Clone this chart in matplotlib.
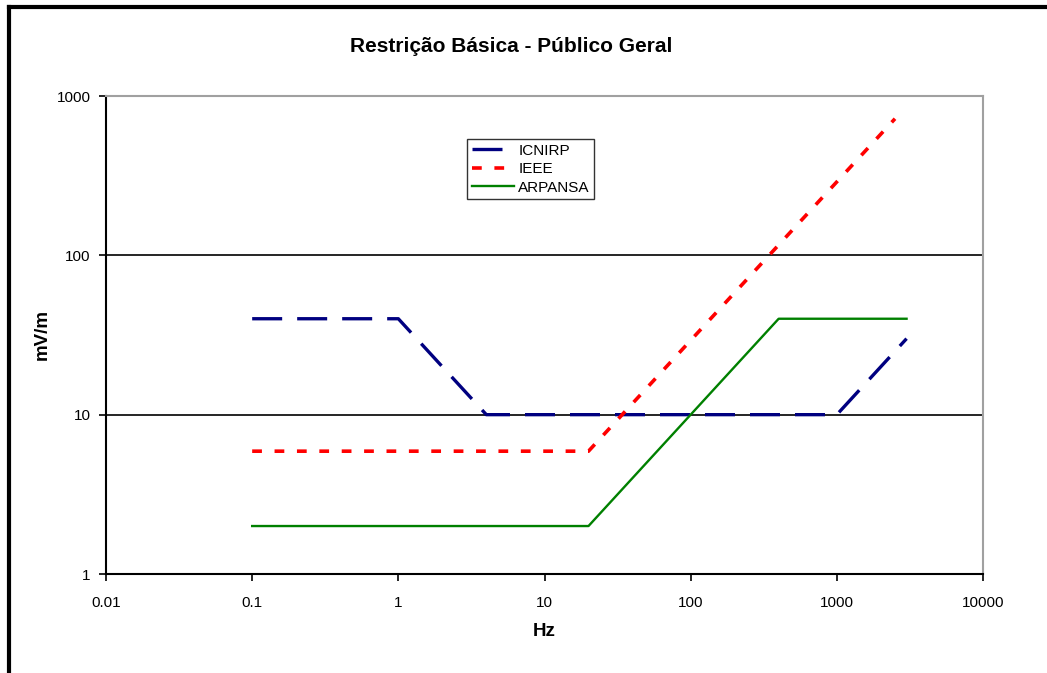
import matplotlib
matplotlib.use("Agg")
import matplotlib.pyplot as plt

plt.rcParams['font.family'] = ['Liberation Sans', 'DejaVu Sans']

# frequencies (Hz) and limits (mV/m)
icnirp_f = [0.1, 1, 4, 1000, 3000]
icnirp_v = [40, 40, 10, 10, 30]

ieee_f = [0.1, 20, 2500]
ieee_v = [5.9, 5.9, 720]

arpansa_f = [0.1, 20, 400, 3000]
arpansa_v = [2, 2, 40, 40]

xticks = [0.01, 0.1, 1, 10, 100, 1000, 10000]
xtick_labels = ['0.01', '0.1', '1', '10', '100', '1000', '10000']
yticks = [1, 10, 100, 1000]
ytick_labels = ['1', '10', '100', '1000']

fig = plt.figure(figsize=(10.47, 6.73), dpi=100)
ax = fig.add_axes([106/1047, 1 - 574/673, 877/1047, 478/673])

# horizontal grid lines
for v in [10, 100]:
    ax.axhline(v, color='black', lw=1.2, zorder=1)

ax.plot(icnirp_f, icnirp_v, color='#000080', lw=2.4, dashes=(9, 4.5),
        solid_capstyle='butt', dash_capstyle='butt', label='ICNIRP', zorder=3)
ax.plot(ieee_f, ieee_v, color='#ff0000', lw=2.6, dashes=(2.7, 3.5),
        dash_capstyle='butt', label='IEEE', zorder=3)
ax.plot(arpansa_f, arpansa_v, color='#008000', lw=1.7, label='ARPANSA', zorder=3)

ax.set_xscale('log')
ax.set_yscale('log')
ax.set_xlim(0.01, 10000)
ax.set_ylim(1, 1000)
ax.minorticks_off()
ax.set_xticks(xticks)
ax.set_xticklabels(xtick_labels)
ax.set_yticks(yticks)
ax.set_yticklabels(ytick_labels)
ax.tick_params(direction='out', length=5, width=1.2, labelsize=11, pad=6)
ax.tick_params(axis='x', pad=11)

for s in ['left', 'bottom']:
    ax.spines[s].set_color('black')
    ax.spines[s].set_linewidth(1.5)
for s in ['top', 'right']:
    ax.spines[s].set_color('#a0a0a0')
    ax.spines[s].set_linewidth(1.5)

leg = ax.legend(loc='upper left', bbox_to_anchor=((467-106)/877, (574-139)/478),
                fontsize=11, frameon=True, fancybox=False, handlelength=2.8,
                handletextpad=0.25, borderpad=0.3, labelspacing=0.3, borderaxespad=0)
leg.get_frame().set_edgecolor('black')
leg.get_frame().set_linewidth(1.0)

fig.text(511/1047, 1 - 46/673, 'Restrição Básica - Público Geral', ha='center', va='center',
         fontsize=15, fontweight='bold')
fig.text(544/1047, 1 - 631/673, 'Hz', ha='center', va='center', fontsize=13.5, fontweight='bold')
fig.text(42/1047, 1 - 335/673, 'mV/m', ha='center', va='center', fontsize=13.5,
         fontweight='bold', rotation=90)

# outer frame lines (top and left)
fig.add_artist(plt.Line2D([9/1047, 1], [1 - 7/673, 1 - 7/673], color='black', lw=3,
                          transform=fig.transFigure))
fig.add_artist(plt.Line2D([9/1047, 9/1047], [0, 1 - 7/673], color='black', lw=3,
                          transform=fig.transFigure))

fig.savefig('out.png', dpi=100)
